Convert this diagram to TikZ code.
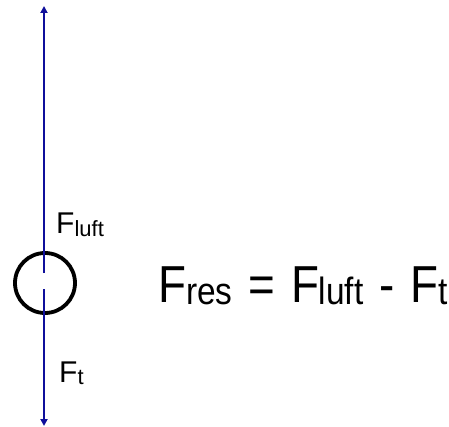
\documentclass[tikz,border=0pt]{standalone}
\usepackage{fontspec}
\setmainfont{Liberation Sans}
\usetikzlibrary{arrows.meta}
\definecolor{fblue}{RGB}{15,15,155}
\newcommand{\lbl}[2]{\fontsize{30}{32}\selectfont #1\raisebox{-2pt}{\fontsize{22}{24}\selectfont #2}}
\newcommand{\eqsub}[1]{\raisebox{-2pt}{\fontsize{38}{40}\selectfont #1}}
\newcommand{\eqgap}{\hspace{18pt}}
\begin{document}
\begin{tikzpicture}[x=1pt,y=-1pt,
  force/.style={draw=fblue,line width=2.6pt,-{Triangle[length=7pt,width=7pt]}},
  ball/.style={draw=black,line width=3.8pt,circle,minimum size=60pt,inner sep=0pt},
  txt/.style={inner sep=0pt,anchor=base west}]
\useasboundingbox (0,0) rectangle (449,427);
\node[ball] (b) at (45,283) {};
\coordinate (u0) at (44,273);
\coordinate (u1) at (44,6);
\coordinate (d0) at (44,289);
\coordinate (d1) at (44,426);
\draw[force] (u0) -- (u1);
\draw[force] (d0) -- (d1);
\node[txt] (fl) at (56,234) {\lbl{F}{luft}};
\node[txt] (ft) at (59,382) {\lbl{F}{t}};
\node[txt] (eq) at (158,302) {\scalebox{0.88}[1]{\fontsize{52}{56}\selectfont F\eqsub{res}\eqgap=\eqgap F\eqsub{luft}\eqgap-\eqgap F\eqsub{t}}};
\end{tikzpicture}
\end{document}
